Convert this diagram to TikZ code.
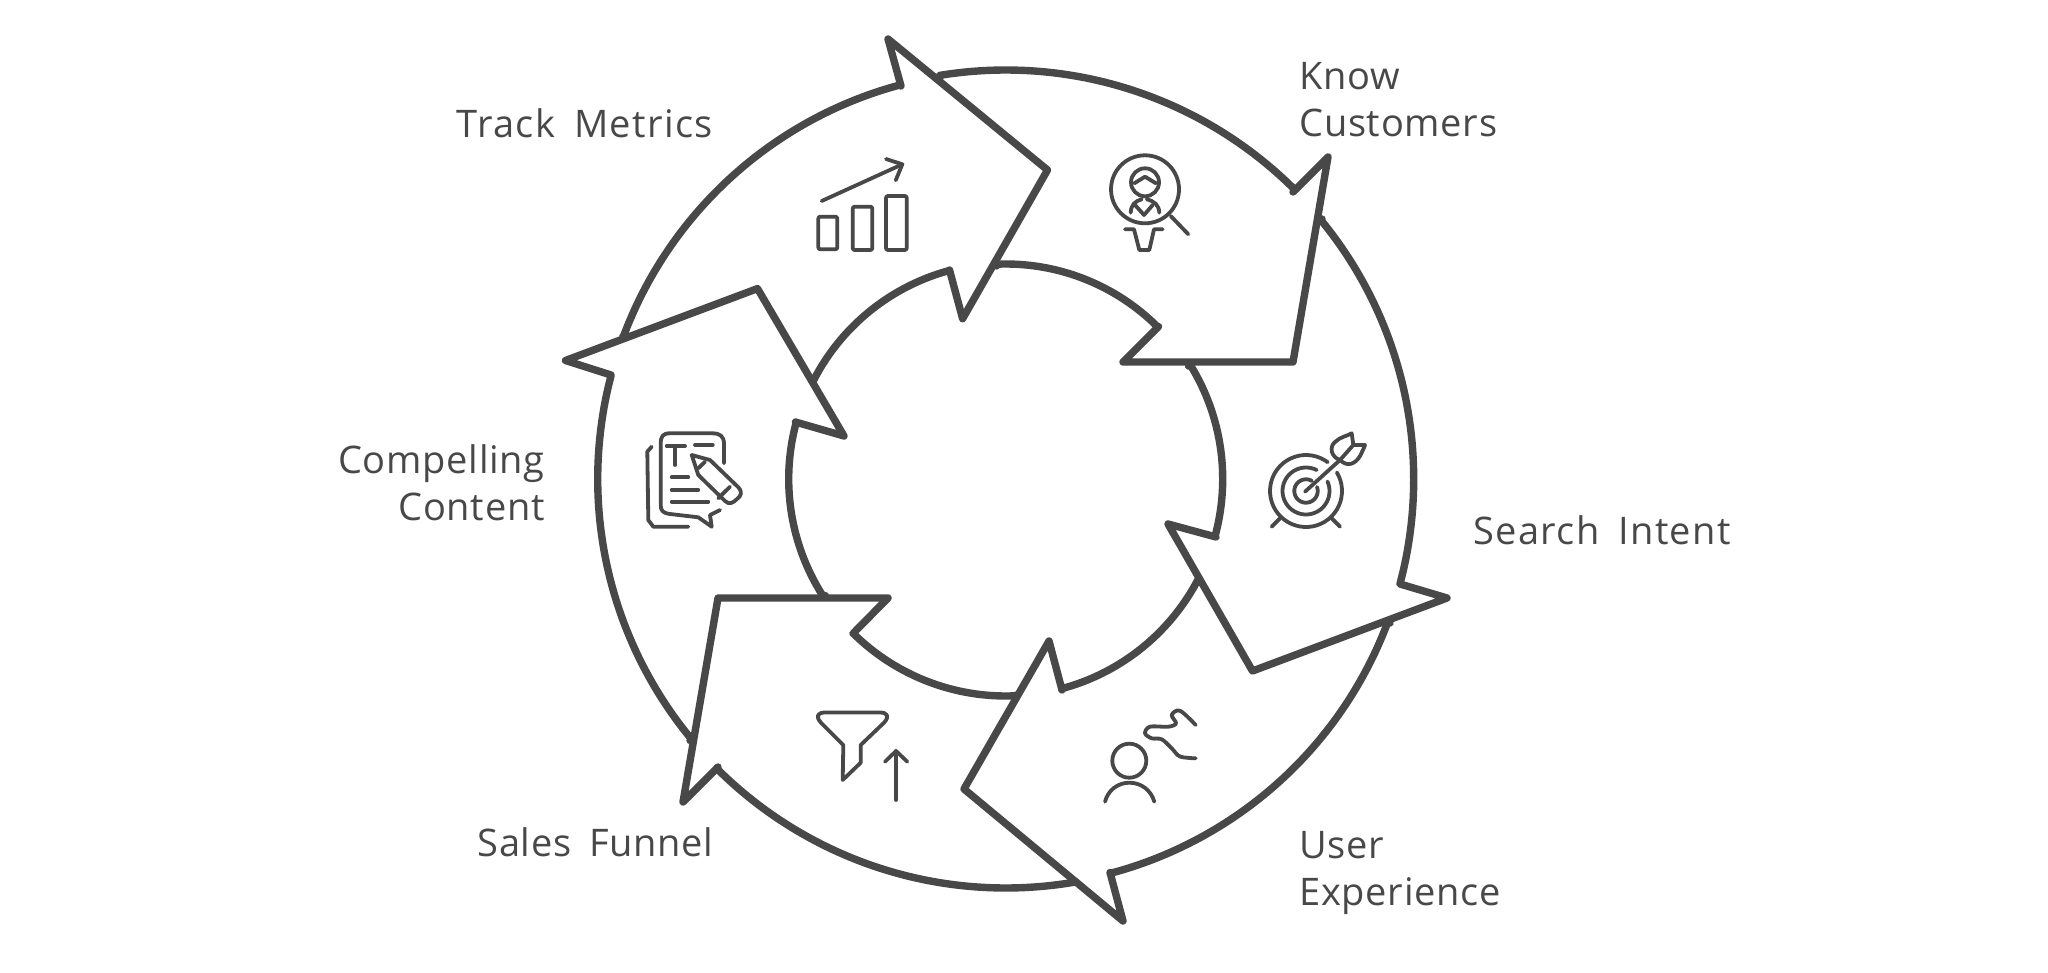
\documentclass[tikz,border=0pt]{standalone}
\usepackage{fontspec}
\setmainfont{Open Sans}
\newfontfamily\labfont[LetterSpace=1.9,WordSpace=1.7]{Open Sans}
\newfontfamily\labwide[LetterSpace=3.5,WordSpace=1.7]{Open Sans}
\definecolor{ink}{HTML}{484848}
\def\cx{1005.7}
\def\cy{479}
\tikzset{
  ring/.style={draw=ink,line width=3.7pt,line join=round,line cap=round},
  icon/.style={draw=ink,line width=1.9pt,line join=round,line cap=round},
  lab/.style={text=ink,font=\labfont\fontsize{19}{23.5}\selectfont,inner sep=0pt},
  labw/.style={text=ink,font=\labwide\fontsize{19}{23.5}\selectfont,inner sep=0pt}
}
\begin{document}
\begin{tikzpicture}[x=0.5pt,y=-0.5pt]
\path[fill=white,use as bounding box] (0,0) rectangle (2048,973);
% ring arrows
\draw[ring] (623,336) -- plot[domain=200.5:255,samples=36,smooth]({\cx+408*cos(\x)},{\cy+408*sin(\x)}) -- (901,86) -- (888,39) -- (1047.5,170) -- (962.6,318.7) -- (949.5,270) -- plot[domain=255:206.8,samples=36,smooth]({\cx+216*cos(\x)},{\cy+216*sin(\x)}) -- (812.4,381.4);
\draw[ring] (940,78) -- plot[domain=260.7:315,samples=36,smooth]({\cx+409*cos(\x)},{\cy+409*sin(\x)}) -- (1293,192) -- (1328,157) -- (1293,362) -- (1123,362) -- (1158.5,326.5) -- plot[domain=315:267.5,samples=36,smooth]({\cx+215*cos(\x)},{\cy+215*sin(\x)}) -- (996.5,266);
\draw[ring] (1322,219) -- plot[domain=320.6:374.9,samples=36,smooth]({\cx+408*cos(\x)},{\cy+408*sin(\x)}) -- (1400,584) -- (1447,598) -- (1252.5,671) -- (1168,524) -- (1216,537) -- plot[domain=15.4:-31.7,samples=36,smooth]({\cx+217*cos(\x)},{\cy+217*sin(\x)}) -- (1188.5,366);
\draw[ring] (1390,623) -- plot[domain=20.5:75.2,samples=36,smooth]({\cx+408*cos(\x)},{\cy+408*sin(\x)}) -- (1110,872.5) -- (1123,921) -- (964,789) -- (1049,641) -- (1062,690) -- plot[domain=75.1:27.4,samples=36,smooth]({\cx+217*cos(\x)},{\cy+217*sin(\x)}) -- (1199,579);
\draw[ring] (1076,882) -- plot[domain=80.1:135,samples=36,smooth]({\cx+409*cos(\x)},{\cy+409*sin(\x)}) -- (718,767) -- (683,802) -- (718,598) -- (888,598) -- (853,633.5) -- plot[domain=134.7:87.3,samples=36,smooth]({\cx+217*cos(\x)},{\cy+217*sin(\x)}) -- (1016,695);
\draw[ring] (690,740.5) -- plot[domain=140.4:194.7,samples=36,smooth]({\cx+408*cos(\x)},{\cy+408*sin(\x)}) -- (611,375) -- (565.5,360.5) -- (757.5,288.6) -- (844,436) -- (795.4,422) -- plot[domain=195.2:147,samples=36,smooth]({\cx+217*cos(\x)},{\cy+217*sin(\x)}) -- (825.4,595.6);
% chart icon
\draw[icon] (821.7,201) -- (902.3,164.3);
\draw[icon] (886,159) -- (902.3,164.3) -- (895.7,180.3);
\draw[icon,rounded corners=1pt] (818.3,216.7) rectangle (837.3,249.3);
\draw[icon,rounded corners=1pt] (852.7,206.7) rectangle (872.3,250);
\draw[icon,rounded corners=1pt] (886,196) rectangle (906.7,250);
% customer icon
\draw[icon] (1145,189.3) circle[radius=34];
\draw[icon] (1170.7,216) -- (1188.3,234.3);
\draw[icon] (1145,182.3) circle[radius=14];
\draw[icon] (1134.3,183.3) -- (1145,176.7) -- (1156,183.3);
\draw[icon] (1130.7,212.7) .. controls (1131,205) and (1135,201) .. (1141.7,199.3);
\draw[icon] (1159.3,212.7) .. controls (1159,205) and (1154,201) .. (1146.7,199.3);
\draw[icon] (1135,205) -- (1144,215) -- (1152.7,205);
\draw[icon] (1125,229.3) -- (1134,229.3) -- (1139.3,250) -- (1149.3,250) -- (1154,229.3) -- (1162.7,229.3);
% target icon
\draw[icon] plot[domain=-31:307,samples=50,smooth]({1306+36*cos(\x)},{491+36*sin(\x)});
\draw[icon] plot[domain=-24:297,samples=50,smooth]({1306+23.5*cos(\x)},{491+23.5*sin(\x)});
\draw[icon] plot[domain=-20:300,samples=40,smooth]({1306+11.7*cos(\x)},{491+11.7*sin(\x)});
\draw[icon] (1305,491.7) -- (1340,460);
\draw[icon] (1340,460) .. controls (1331,457) and (1329,447) .. (1335,442) .. controls (1340,437) and (1347,436) .. (1351.7,433.3) -- (1353.3,445) -- (1340,460);
\draw[icon] (1340,460) .. controls (1348,468) and (1356,463) .. (1360,456) .. controls (1362,452) and (1364,448) .. (1365,445) -- (1353.3,445);
\draw[icon] (1271.7,526.7) -- (1280,518.3);
\draw[icon] (1340,526.7) -- (1331.7,518.3);
% person icon
\draw[icon] (1129.3,760.7) circle[radius=17];
\draw[icon] (1105,801.7) .. controls (1108,790) and (1118,782.7) .. (1129.3,782.7) .. controls (1141,782.7) and (1151,790) .. (1154.3,801.7);
\draw[icon] plot[smooth,tension=0.55] coordinates {(1195.7,725) (1180,710.7) (1171.7,715) (1176,723.3) (1168.3,726.7) (1150,726.7) (1145,733.3) (1151.7,738.3) (1161.7,739.3) (1171.7,748.3) (1180,756.5) (1195.7,758.3)};
% funnel icon
\draw[icon] (843.3,745) -- (821,722.7) .. controls (815,716) and (818,712.5) .. (825,712.5) -- (880,712.5) .. controls (887,712.5) and (890,716) .. (884,722.7) -- (860.7,745) -- (860.7,762.7) -- (842.7,780) -- cycle;
\draw[icon] (896,800) -- (896,751);
\draw[icon] (885,761.7) -- (896,751) -- (907.3,761.7);
% document icon
\draw[icon] (724,463.3) -- (724,444) .. controls (724,436) and (720,433.3) .. (712,433.3) -- (670,433.3) .. controls (663,433.3) and (660.7,436) .. (660.7,444) -- (660.7,505) .. controls (660.7,511) and (663,513) .. (670,514) -- (698.3,517.3) -- (711.7,526.7) -- (710,515) -- (720,510);
\draw[icon] (651.7,446.7) -- (647.3,451.7) -- (648.3,520) -- (653.3,526.7) -- (688.3,526.7);
\draw[icon] (666.7,446) -- (685,446);
\draw[icon] (675,446) -- (675,465);
\draw[icon] (695,445) -- (712.7,445);
\draw[icon] (671.7,477.3) -- (688.3,477.3);
\draw[icon] (671.7,490) -- (698.3,490);
\draw[icon] (671.7,501.7) -- (708.3,501.7);
\draw[icon] (691.7,455) -- (710,460) -- (738,487) .. controls (743,492) and (741,496) .. (737,499) .. controls (733,503) and (729,505) .. (725,501) -- (698.3,475) -- cycle;
\draw[icon] (698.3,468.3) -- (705,461.7);
\draw[icon] (730,486.7) -- (718.3,498.3);
% labels
\node[lab,anchor=west,align=left] (know) at (1299,100) {Know\\Customers};
\node[labw,anchor=east,align=right] (track) at (713,123) {Track Metrics};
\node[labw,anchor=west] (search) at (1473,530) {Search Intent};
\node[lab,anchor=west,align=left] (user) at (1299,873) {User\\Experience};
\node[lab,anchor=east] (sales) at (714,842) {Sales Funnel};
\node[lab,anchor=east,align=right] (content) at (545,483) {Compelling\\Content};
\end{tikzpicture}
\end{document}
